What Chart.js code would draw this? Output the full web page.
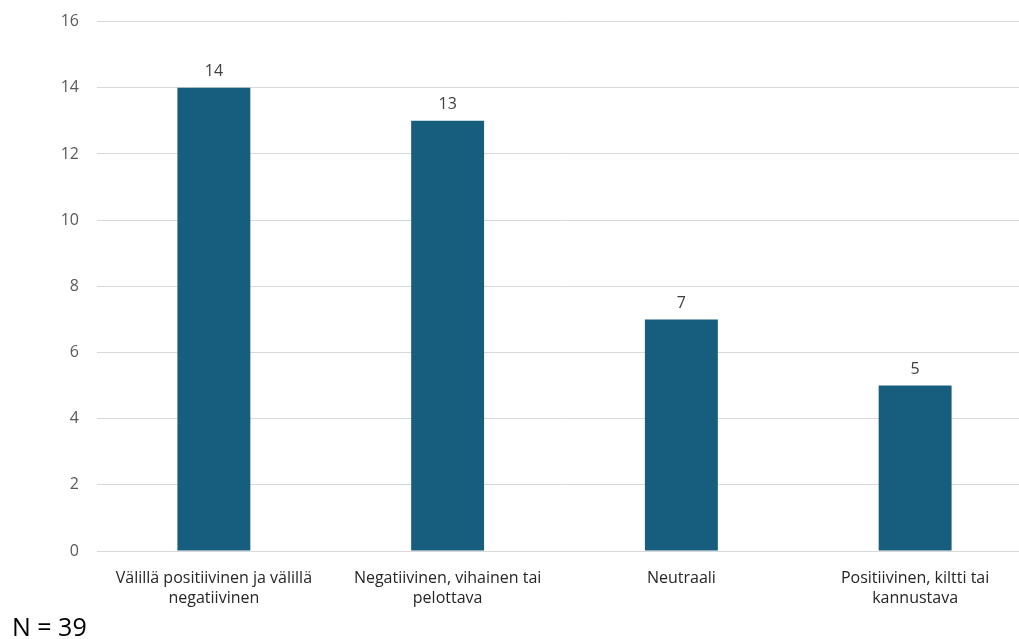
<!doctype html>
<html>
<head>
    <meta charset="utf-8" />
    <style>
        html, body {
            margin: 0px;
            padding: 0px;
            background-color: #ffffff;
            overflow: hidden;
        }
        .wrap {
            position: absolute;
            left: 0px;
            top: -6px;
            width: 1032px;
            height: 645px;
        }
        .note {
            position: absolute;
            left: 12px;
            top: 610px;
            font-family: "Open Sans";
            font-size: 25px;
            line-height: 32px;
            color: #000000;
        }
    </style>
    <title>Kokemus</title>
</head>
<body>
    <div class="wrap">
        <canvas id="chart"></canvas>
    </div>
    <div class="note">N = 39</div>

    <script src="https://cdn.jsdelivr.net/npm/chart.js@4"></script>
    <script>
        const categories = [
            ["Välillä positiivinen ja välillä", "negatiivinen"],
            ["Negatiivinen, vihainen tai", "pelottava"],
            ["Neutraali"],
            ["Positiivinen, kiltti tai", "kannustava"]
        ];
        const values = [14, 13, 7, 5];
        const yTicks = [0, 2, 4, 6, 8, 10, 12, 14, 16];

        // value labels above the bars
        const valueLabels = {
            id: 'valueLabels',
            afterDatasetsDraw(chart) {
                const ctx = chart.ctx;
                ctx.save();
                ctx.font = '16px "Open Sans"';
                ctx.fillStyle = '#404040';
                ctx.textAlign = 'center';
                ctx.textBaseline = 'bottom';
                chart.getDatasetMeta(0).data.forEach((bar, i) => {
                    ctx.fillText(values[i], bar.x, bar.y - 8);
                });
                ctx.restore();
            }
        };

        const ctx = document.getElementById('chart').getContext('2d');
        new Chart(ctx, {
            type: 'bar',
            data: {
                labels: categories,
                datasets: [{
                    data: values,
                    backgroundColor: '#175e7e',
                    categoryPercentage: 1,
                    barPercentage: 0.312
                }]
            },
            options: {
                animation: false,
                responsive: true,
                maintainAspectRatio: false,
                layout: { padding: { top: 12, right: 0, bottom: 0, left: 0 } },
                plugins: {
                    legend: { display: false },
                    tooltip: { enabled: false }
                },
                scales: {
                    x: {
                        grid: { display: false },
                        border: { color: '#d9d9d9' },
                        ticks: {
                            color: '#262626',
                            font: { family: 'Open Sans', size: 16, lineHeight: 1.25 },
                            maxRotation: 0,
                            autoSkip: false,
                            padding: 9
                        },
                        afterFit: function (scale) { scale.height = 88; }
                    },
                    y: {
                        min: yTicks[0],
                        max: yTicks[yTicks.length - 1],
                        afterBuildTicks: function (scale) {
                            scale.ticks = yTicks.map(v => ({ value: v }));
                        },
                        grid: { color: '#d9d9d9', drawTicks: false },
                        border: { display: false },
                        ticks: {
                            color: '#595959',
                            font: { family: 'Open Sans', size: 16 },
                            padding: 18
                        },
                        afterFit: function (scale) { scale.width = 97; }
                    }
                }
            },
            plugins: [valueLabels]
        });
    </script>
</body>
</html>
